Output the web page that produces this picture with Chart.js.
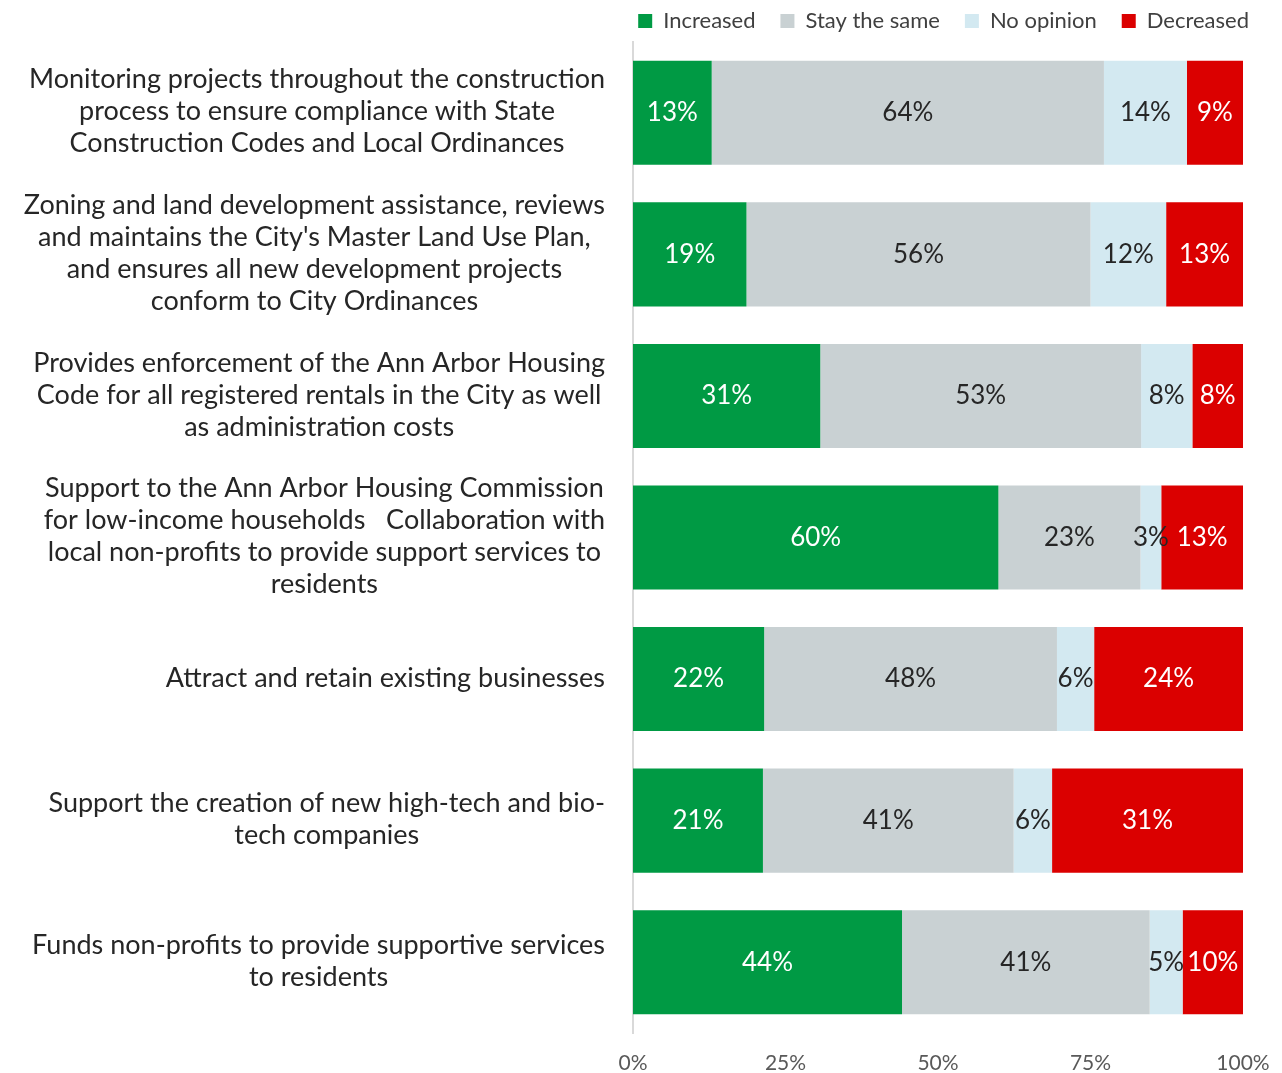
<!DOCTYPE html>
<html>
<head>
<meta charset="utf-8">
<script src="https://cdn.jsdelivr.net/npm/chart.js@4/dist/chart.umd.min.js"></script>
<style>
  html, body { margin: 0; padding: 0; background: #fff; overflow: hidden; }
  #wrap { position: relative; width: 1282px; height: 1073px; }
</style>
</head>
<body>
<div id="wrap"><canvas id="myChart"></canvas></div>
<script>
// category labels, one array of lines per bar
const categories = [
  ['Monitoring projects throughout the construction', 'process to ensure compliance with State', 'Construction Codes and Local Ordinances'],
  ['Zoning and land development assistance, reviews', "and maintains the City's Master Land Use Plan,", 'and ensures all new development projects', 'conform to City Ordinances'],
  ['Provides enforcement of the Ann Arbor Housing', 'Code for all registered rentals in the City as well', 'as administration costs'],
  ['Support to the Ann Arbor Housing Commission', 'for low-income households   Collaboration with', 'local non-profits to provide support services to', 'residents'],
  ['Attract and retain existing businesses'],
  ['Support the creation of new high-tech and bio-', 'tech companies'],
  ['Funds non-profits to provide supportive services', 'to residents']
];

const increased   = [12.9, 18.6, 30.7, 59.9, 21.5, 21.3, 44.1];
const stayTheSame = [64.3, 56.4, 52.6, 23.3, 48.0, 41.1, 40.6];
const noOpinion   = [13.6, 12.4, 8.4, 3.4, 6.1, 6.3, 5.4];
const decreased   = [9.2, 12.6, 8.3, 13.4, 24.4, 31.3, 9.9];

const xTicks = [0, 25, 50, 75, 100];

const FONT = 'Lato, "Open Sans", sans-serif';

// draws the multi-line category labels, centred on each other, block right-aligned
const catLabels = {
  id: 'catLabels',
  afterDraw(chart) {
    const ctx = chart.ctx;
    const y = chart.scales.y;
    const right = chart.chartArea.left - 28;
    const lh = 32;
    ctx.save();
    ctx.font = '27px ' + FONT;
    ctx.fillStyle = '#262626';
    ctx.textAlign = 'center';
    ctx.textBaseline = 'middle';
    categories.forEach(function(lines, i) {
      let w = 0;
      lines.forEach(function(l) { w = Math.max(w, ctx.measureText(l).width); });
      const cx = right - w / 2;
      const cy = y.getPixelForValue(i) - 1;
      const top = cy - (lines.length - 1) * lh / 2;
      lines.forEach(function(l, k) { ctx.fillText(l, cx, top + k * lh); });
    });
    ctx.restore();
  }
};

// percentage labels in the middle of each segment
const barLabels = {
  id: 'barLabels',
  afterDatasetsDraw(chart) {
    const ctx = chart.ctx;
    ctx.save();
    ctx.font = '26px ' + FONT;
    ctx.textAlign = 'center';
    ctx.textBaseline = 'middle';
    chart.data.datasets.forEach(function(ds, di) {
      const meta = chart.getDatasetMeta(di);
      ctx.fillStyle = (di == 0 || di == 3) ? '#ffffff' : '#262626';
      meta.data.forEach(function(bar, i) {
        const x = (bar.x + bar.base) / 2;
        ctx.fillText(Math.round(ds.data[i]) + '%', x, bar.y);
      });
    });
    ctx.restore();
  }
};

const data = {
  labels: categories.map(function(c) { return c.join(' '); }),
  datasets: [
    { label: 'Increased', data: increased, backgroundColor: '#009a44' },
    { label: 'Stay the same', data: stayTheSame, backgroundColor: '#c9d1d3' },
    { label: 'No opinion', data: noOpinion, backgroundColor: '#d3e9f1' },
    { label: 'Decreased', data: decreased, backgroundColor: '#db0000' }
  ]
};

const config = {
  type: 'bar',
  data: data,
  options: {
    indexAxis: 'y',
    responsive: true,
    maintainAspectRatio: false,
    animation: false,
    datasets: { bar: { barPercentage: 0.735, categoryPercentage: 1.0 } },
    layout: { padding: { left: 10, right: 25, top: 2, bottom: 0 } },
    plugins: {
      legend: {
        position: 'top',
        align: 'end',
        labels: {
          boxWidth: 14,
          boxHeight: 14,
          padding: 8,
          color: '#404040',
          font: { family: FONT, size: 22 },
          // trailing spaces widen the gap between items without a taller legend
          generateLabels: function(chart) {
            const items = Chart.defaults.plugins.legend.labels.generateLabels(chart);
            items.forEach(function(it, i) {
              if (i < items.length - 1) it.text = it.text + '   ';
            });
            return items;
          }
        }
      },
      tooltip: { enabled: false }
    },
    scales: {
      x: {
        stacked: true,
        min: 0,
        max: 100,
        afterBuildTicks: function(scale) {
          scale.ticks = xTicks.map(function(v) { return { value: v }; });
        },
        afterFit: function(scale) {
          scale.height = 40;
          scale.paddingRight = 39;
        },
        grid: { display: false, drawTicks: false },
        border: { display: false },
        ticks: {
          padding: 18,
          color: '#595959',
          font: { family: FONT, size: 21 },
          callback: function(v) { return v + '%'; }
        }
      },
      y: {
        stacked: true,
        afterFit: function(scale) { scale.width = 623; },
        grid: { display: false, drawTicks: false },
        border: { display: true, color: '#d9d9d9', width: 2 },
        ticks: { display: false }
      }
    }
  },
  plugins: [barLabels, catLabels]
};

var myChart = new Chart(document.getElementById('myChart'), config);
</script>
</body>
</html>
